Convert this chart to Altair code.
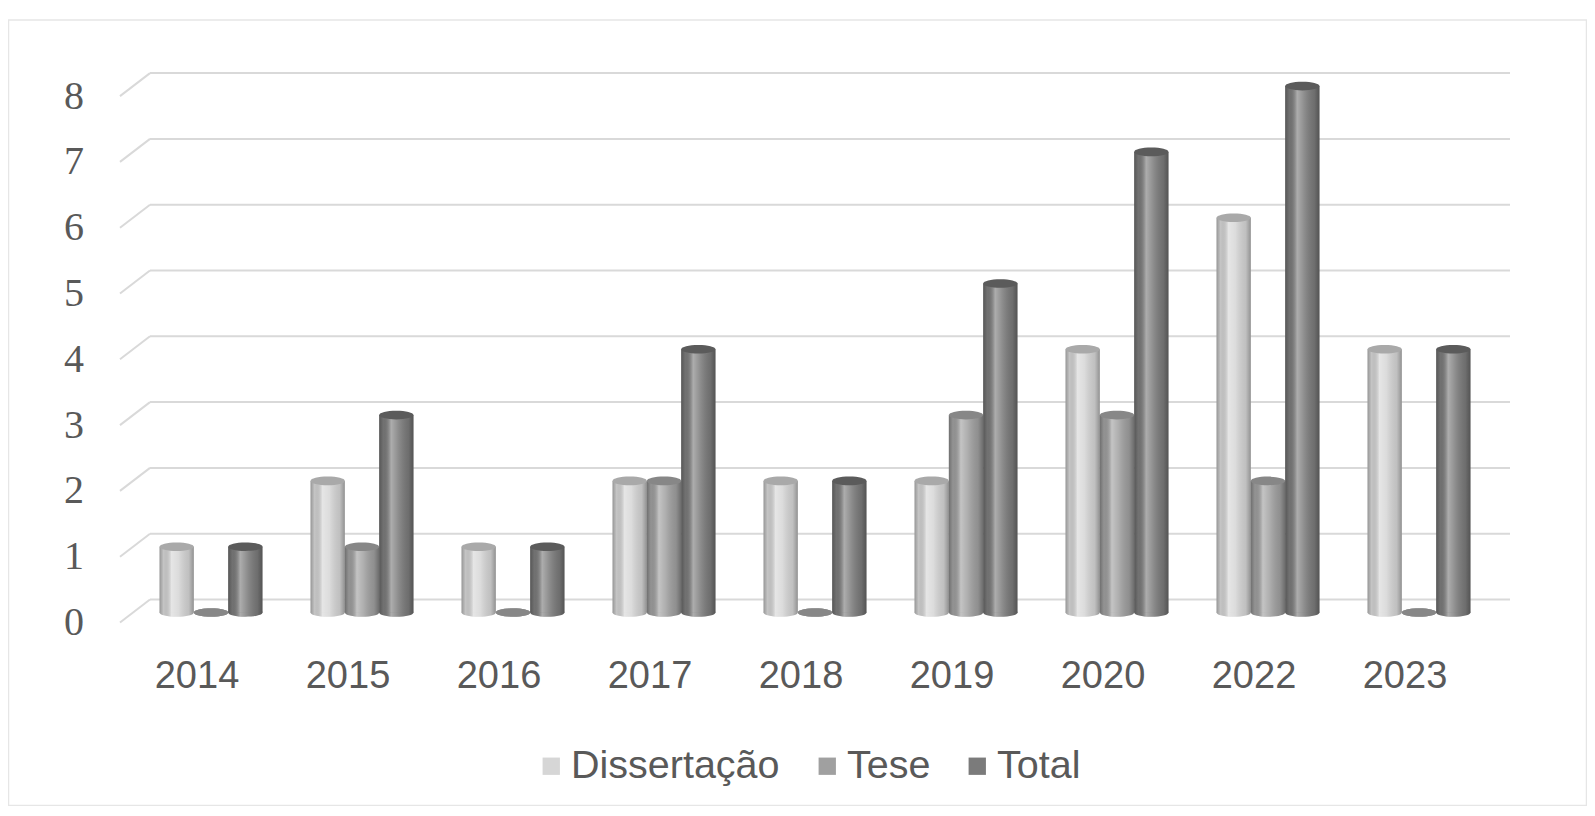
import altair as alt
import pandas as pd

years = ["2014", "2015", "2016", "2017", "2018", "2019", "2020", "2022", "2023"]
series = ["Dissertação", "Tese", "Total"]
dissertacao = [1, 2, 1, 2, 2, 2, 4, 6, 4]
tese = [0, 1, 0, 2, 0, 3, 3, 2, 0]
total = [1, 3, 1, 4, 2, 5, 7, 8, 4]
y_ticks = [0, 1, 2, 3, 4, 5, 6, 7, 8]

body_colors = ["#d6d6d6", "#a0a0a0", "#7b7b7b"]
top_colors = ["#a9a9a9", "#878787", "#5b5b5b"]

rows = []
for name, vals in zip(series, [dissertacao, tese, total]):
    for yr, v in zip(years, vals):
        rows.append({"year": yr, "series": name, "value": v})
df = pd.DataFrame(rows)
grid_df = pd.DataFrame({"value": y_ticks})
frame_df = pd.DataFrame({"k": [0]})

W, H = 1359, 526.4
PAD_L, PAD_T = 127.5, 78.1
TOTAL_W, TOTAL_H = 1579, 798

ELLIPSE = "M-1,0A1,0.25,0,1,0,1,0A1,0.25,0,1,0,-1,0Z"
SYM = 1177

x_enc = alt.X(
    "year:N", sort=years,
    scale=alt.Scale(paddingInner=0.318, paddingOuter=0.159),
    axis=alt.Axis(title=None, domain=False, ticks=False, grid=False, labelAngle=0,
                  labelFont="Liberation Sans", labelFontSize=38, labelColor="#595959",
                  labelPadding=64, labelBaseline="middle", labelOffset=-14),
)
xo_enc = alt.XOffset("series:N", sort=series, scale=alt.Scale(domain=series))
y_scale = alt.Scale(domain=[0, 8], nice=False, zero=True)
y_axis = alt.Axis(title=None, values=y_ticks, format="d", domain=False, ticks=False,
                  grid=False, labelFont="Liberation Serif", labelFontSize=40,
                  labelColor="#595959", labelPadding=52, labelOffset=10,
                  labelBaseline="middle")
y_enc = alt.Y("value:Q", scale=y_scale, axis=y_axis)

shade = {
    "gradient": "linear", "x1": 0, "x2": 1, "y1": 0, "y2": 0,
    "stops": [
        {"offset": 0.0, "color": "rgba(0,0,0,0.30)"},
        {"offset": 0.12, "color": "rgba(0,0,0,0.08)"},
        {"offset": 0.35, "color": "rgba(255,255,255,0.38)"},
        {"offset": 0.55, "color": "rgba(255,255,255,0.15)"},
        {"offset": 0.85, "color": "rgba(0,0,0,0.10)"},
        {"offset": 1.0, "color": "rgba(0,0,0,0.32)"},
    ],
}

grid_diag = alt.Chart(grid_df).mark_rule(
    color="#d9d9d9", strokeWidth=2, yOffset=10, y2Offset=-13
).encode(
    x=alt.value(-15.5), x2=alt.value(14.5), y=y_enc, y2=alt.Y2("value:Q")
)
grid_back = alt.Chart(grid_df).mark_rule(
    color="#d9d9d9", strokeWidth=2, yOffset=-13
).encode(
    x=alt.value(14.5), x2=alt.value(1374.5), y=y_enc
)

bottoms = alt.Chart(df).mark_point(
    filled=True, opacity=1, shape=ELLIPSE, size=SYM, strokeWidth=0
).encode(
    x=x_enc, xOffset=xo_enc,
    y=alt.YDatum(0, scale=y_scale, axis=y_axis),
    fill=alt.Fill("series:N", sort=series,
                  scale=alt.Scale(domain=series, range=body_colors), legend=None),
)
bottoms_shade = alt.Chart(df).mark_point(
    filled=True, opacity=1, shape=ELLIPSE, size=SYM, strokeWidth=0, fill=shade
).encode(
    x=x_enc, xOffset=xo_enc,
    y=alt.YDatum(0, scale=y_scale, axis=y_axis),
)

bars = alt.Chart(df).mark_bar().encode(
    x=x_enc, xOffset=xo_enc, y=y_enc,
    color=alt.Color(
        "series:N", sort=series,
        scale=alt.Scale(domain=series, range=body_colors),
        legend=alt.Legend(
            title=None, orient="none", legendX=396, legendY=660,
            direction="horizontal", symbolType="square", symbolSize=300,
            symbolStrokeWidth=0, labelFont="Liberation Sans", labelFontSize=39.5,
            labelColor="#595959", labelOffset=0, columnPadding=27, padding=0,
            labelLimit=500,
        ),
    ),
)
bars_shade = alt.Chart(df).mark_bar(fill=shade).encode(
    x=x_enc, xOffset=xo_enc, y=y_enc
)

tops = alt.Chart(df).mark_point(
    filled=True, opacity=1, shape=ELLIPSE, size=SYM, strokeWidth=0
).encode(
    x=x_enc, xOffset=xo_enc, y=y_enc,
    fill=alt.Fill("series:N", sort=series,
                  scale=alt.Scale(domain=series, range=top_colors), legend=None),
)

frame = alt.Chart(frame_df).mark_rect(
    fillOpacity=0, stroke="#e6e6e6", strokeWidth=1.5
).encode(
    x=alt.value(-127), x2=alt.value(1451), y=alt.value(-66), y2=alt.value(719.4)
)

chart = alt.layer(
    grid_diag, grid_back, bottoms, bottoms_shade, bars, bars_shade, tops, frame
).resolve_scale(
    fill="independent"
).properties(
    width=W, height=H,
    autosize=alt.AutoSizeParams(type="none"),
    padding={"left": PAD_L, "top": PAD_T,
             "right": TOTAL_W - PAD_L - W, "bottom": TOTAL_H - PAD_T - H},
    background="white",
).configure_view(stroke=None)

chart.save("out.html", embed_options={"renderer": "svg", "actions": False})
